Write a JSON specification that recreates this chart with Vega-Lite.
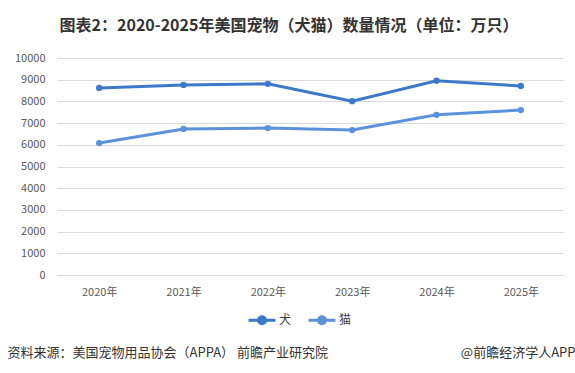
{
  "$schema": "https://vega.github.io/schema/vega-lite/v6.json",
  "width": 506,
  "height": 217,
  "autosize": {"type": "none"},
  "padding": {"left": 57, "top": 58, "right": 12, "bottom": 98},
  "background": "white",
  "config": {
    "font": "Noto Sans CJK SC",
    "view": {"stroke": null}
  },
  "title": {
    "text": "图表2：2020-2025年美国宠物（犬猫）数量情况（单位：万只）",
    "fontSize": 16,
    "fontWeight": "bold",
    "color": "#333333",
    "anchor": "middle",
    "dx": -21,
    "baseline": "alphabetic",
    "offset": 5
  },
  "data": {
    "values": [
      {"year": "2020年", "type": "犬", "value": 8620},
      {"year": "2021年", "type": "犬", "value": 8760},
      {"year": "2022年", "type": "犬", "value": 8810},
      {"year": "2023年", "type": "犬", "value": 8010},
      {"year": "2024年", "type": "犬", "value": 8950},
      {"year": "2025年", "type": "犬", "value": 8710},
      {"year": "2020年", "type": "猫", "value": 6080},
      {"year": "2021年", "type": "猫", "value": 6730},
      {"year": "2022年", "type": "猫", "value": 6770},
      {"year": "2023年", "type": "猫", "value": 6680},
      {"year": "2024年", "type": "猫", "value": 7380},
      {"year": "2025年", "type": "猫", "value": 7600}
    ]
  },
  "mark": {"type": "line", "strokeWidth": 3, "point": {"filled": true, "size": 40}},
  "encoding": {
    "x": {
      "field": "year",
      "type": "ordinal",
      "scale": {"padding": 0.5},
      "axis": {
        "labelAngle": 0,
        "labelFontSize": 11,
        "labelColor": "#595959",
        "labelPadding": 11,
        "ticks": false,
        "domain": false,
        "grid": false,
        "title": "资料来源：美国宠物用品协会（APPA） 前瞻产业研究院",
        "titleFontSize": 13,
        "titleFontWeight": "normal",
        "titleColor": "#333333",
        "titleAnchor": "start",
        "titleAlign": "left",
        "titleBaseline": "middle",
        "titleX": -50,
        "titleY": 77
      }
    },
    "y": {
      "field": "value",
      "type": "quantitative",
      "scale": {"domain": [0, 10000], "nice": false},
      "axis": {
        "values": [0, 1000, 2000, 3000, 4000, 5000, 6000, 7000, 8000, 9000, 10000],
        "format": "d",
        "labelFontSize": 11,
        "labelColor": "#595959",
        "labelPadding": 12,
        "ticks": false,
        "domain": false,
        "gridColor": "#d9d9d9",
        "gridWidth": 1,
        "title": "@前瞻经济学人APP",
        "titleFontSize": 13,
        "titleFontWeight": "normal",
        "titleColor": "#333333",
        "titleAngle": 0,
        "titleAlign": "right",
        "titleBaseline": "middle",
        "titleX": 518,
        "titleY": 294
      }
    },
    "color": {
      "field": "type",
      "type": "nominal",
      "scale": {"domain": ["犬", "猫"], "range": ["#3d79c9", "#5b92db"]},
      "legend": {
        "title": null,
        "orient": "none",
        "direction": "horizontal",
        "legendX": 190,
        "legendY": 247,
        "labelFontSize": 12,
        "labelColor": "#404040",
        "labelOffset": 2,
        "columnPadding": 10,
        "symbolType": "M-1,0H1M-0.26,0A0.26,0.26 0 1,0 0.26,0A0.26,0.26 0 1,0 -0.26,0Z",
        "symbolSize": 729,
        "symbolStrokeWidth": 3,
        "encode": {
          "symbols": {"update": {"fill": {"scale": "color", "field": "value"}, "stroke": {"scale": "color", "field": "value"}}}
        }
      }
    }
  }
}
